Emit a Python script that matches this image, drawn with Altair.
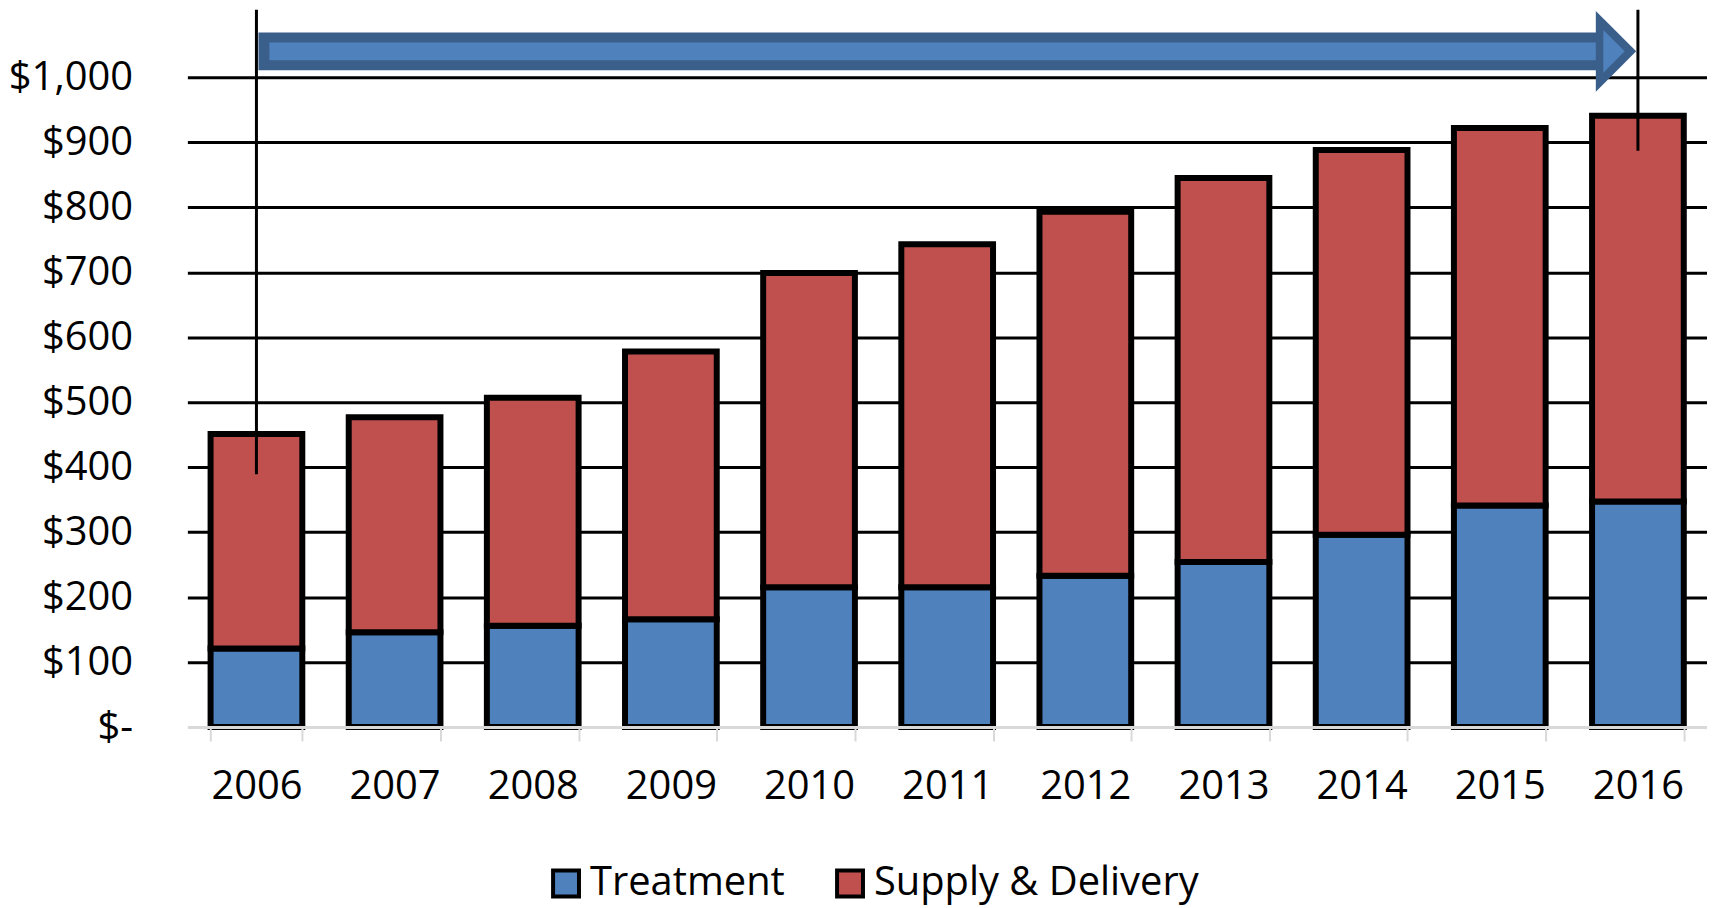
import altair as alt
import pandas as pd

# ---- data ----
years = ["2006", "2007", "2008", "2009", "2010", "2011", "2012", "2013", "2014", "2015", "2016"]
treatment = [121, 146, 156, 166, 215, 215, 233, 254, 296, 341, 347]
supply = [330, 331, 351, 412, 484, 528, 560, 591, 592, 581, 594]
series = ["Treatment", "Supply & Delivery"]
series_colors = ["#4f81bd", "#c0504d"]
y_ticks = [0, 100, 200, 300, 400, 500, 600, 700, 800, 900, 1000]

# annotation: bracket lines and the growth arrow (in data units)
line_years = ["2006", "2016"]
line_top = [1104, 1104]
line_bottom = [389, 887]
arrow_start, arrow_end, arrow_y = "2006", "2016", 1040

rows = []
for i, yr in enumerate(years):
    rows.append({"year": yr, "series": series[0], "value": treatment[i], "ord": 0})
    rows.append({"year": yr, "series": series[1], "value": supply[i], "ord": 1})
df = pd.DataFrame(rows)
df_lines = pd.DataFrame({"year": line_years, "top": line_top, "bottom": line_bottom})
df_arrow = pd.DataFrame({"start": [arrow_start], "end": [arrow_end], "ay": [arrow_y]})

FONT = "Open Sans"
DARK = "#3a5f8b"
LIGHT = "#4f81bd"

yscale = alt.Scale(domain=[0, 1000], nice=False, zero=True)

bars = alt.Chart(df).mark_bar(stroke="black", strokeWidth=6, strokeJoin="miter").encode(
    x=alt.X(
        "year:N",
        sort=years,
        title=None,
        scale=alt.Scale(paddingInner=0.336, paddingOuter=0.168),
        axis=alt.Axis(
            labelAngle=0, domainColor="#d9d9d9", domainWidth=3,
            tickColor="#d9d9d9", tickWidth=2, tickSize=14, tickBand="extent",
            labelPadding=26, grid=False, zindex=1,
            labelFont=FONT, labelFontSize=40, labelColor="black",
        ),
    ),
    y=alt.Y(
        "value:Q",
        stack="zero",
        title=None,
        scale=yscale,
        axis=alt.Axis(
            values=y_ticks, domain=False, ticks=False, labelPadding=55,
            labelExpr="datum.value === 0 ? '$-\u00a0\u00a0' : '$' + format(datum.value, ',')",
            gridColor={"condition": {"test": "datum.value === 0", "value": "transparent"}, "value": "black"},
            gridWidth=3, labelFont=FONT, labelFontSize=40, labelColor="black",
        ),
    ),
    color=alt.Color(
        "series:N",
        scale=alt.Scale(domain=series, range=series_colors),
        legend=alt.Legend(
            title=None, orient="none", legendX=360, legendY=789, direction="horizontal",
            symbolType="square", symbolSize=676, symbolStrokeWidth=4,
            symbolStrokeColor="black", symbolOpacity=1, labelFont=FONT,
            labelFontSize=40, labelColor="black", columnPadding=44, labelOffset=4,
            labelLimit=600, padding=0,
        ),
    ),
    order=alt.Order("ord:Q", sort="ascending"),
)

vlines = alt.Chart(df_lines).mark_rule(color="black", strokeWidth=3).encode(
    x=alt.X("year:N", title=None),
    y=alt.Y("top:Q", title=None),
    y2="bottom:Q",
)

body_dark = alt.Chart(df_arrow).mark_rule(
    color=DARK, strokeWidth=38, strokeCap="butt", xOffset=2, x2Offset=-38
).encode(x=alt.X("start:N", title=None), x2="end:N", y=alt.Y("ay:Q", title=None))

body_light = alt.Chart(df_arrow).mark_rule(
    color=LIGHT, strokeWidth=18, strokeCap="butt", xOffset=13, x2Offset=-33
).encode(x=alt.X("start:N", title=None), x2="end:N", y=alt.Y("ay:Q", title=None))

TRI = "M -0.5 -1 L 0.5 0 L -0.5 1 Z"
head_dark = alt.Chart(df_arrow).mark_point(
    shape=TRI, size=6561, filled=True, color=DARK, opacity=1, strokeWidth=0, xOffset=-22
).encode(x=alt.X("end:N", title=None), y=alt.Y("ay:Q", title=None))

head_light = alt.Chart(df_arrow).mark_point(
    shape=TRI, size=1849, filled=True, color=LIGHT, opacity=1, strokeWidth=0, xOffset=-24
).encode(x=alt.X("end:N", title=None), y=alt.Y("ay:Q", title=None))

chart = alt.layer(bars, vlines, body_dark, body_light, head_dark, head_light).properties(
    width=1525,
    height=652,
    autosize=alt.AutoSizeParams(type="none"),
    padding={"left": 180, "top": 68, "right": 0, "bottom": 180},
    background="white",
).configure_view(stroke=None)

chart.save("out.html", embed_options={"renderer": "svg", "actions": False})
